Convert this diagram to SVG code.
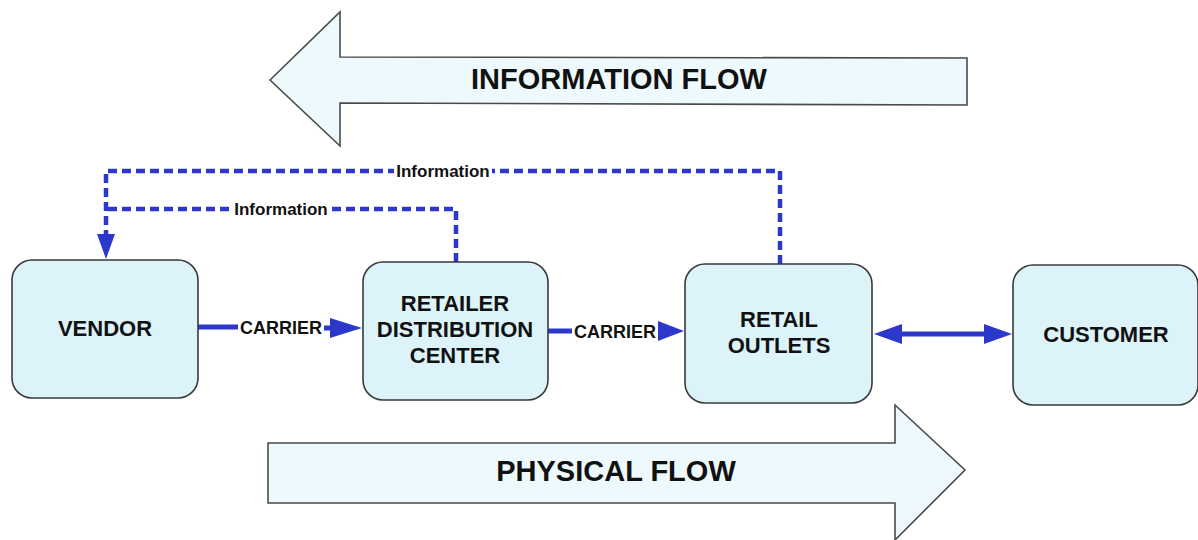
<svg xmlns="http://www.w3.org/2000/svg" width="1198" height="540" viewBox="0 0 1198 540">
<style>
.node{fill:#dcf4f9;stroke:#3a3a3a;stroke-width:1.6}
.big{fill:#edf9fc;stroke:#4a4a4a;stroke-width:1.6}
.t{font-family:"Liberation Sans",Arial,sans-serif;font-weight:bold;fill:#111;text-anchor:middle}
.nt{font-size:22px}
.ft{font-size:29px}
.lt{font-size:18px}
.it{font-size:17px}
.dash{fill:none;stroke:#2b38c9;stroke-width:4.5;stroke-dasharray:9 5}
.solid{fill:none;stroke:#2b38c9;stroke-width:5}
.head{fill:#2b38c9}
.bg{fill:#fff}
</style>
<rect width="1198" height="540" fill="#fff"/>
<g id="info-flow">
<polygon class="big" points="270,80 340,12 340,57 967,58 967,105 340,103 340,146"/>
<text class="t ft" x="619" y="89">INFORMATION FLOW</text>
</g>
<g id="physical-flow">
<polygon class="big" points="268,443 895,443 895,405 965,470 895,540 895,503 268,503"/>
<text class="t ft" x="616" y="481">PHYSICAL FLOW</text>
</g>
<g id="connectors">
<path class="dash" d="M780,264 V171 H106 V236"/>
<polygon class="head" points="97,234 115,234 106,259"/>
<path class="dash" d="M456,262 V209 H106"/>
<rect class="bg" x="394" y="160" width="98" height="22"/>
<text class="t it" x="443" y="177">Information</text>
<rect class="bg" x="232" y="198" width="98" height="22"/>
<text class="t it" x="281" y="215">Information</text>
<path class="solid" d="M198,327 H238"/>
<text class="t lt" x="281" y="334">CARRIER</text>
<path class="solid" d="M324,328 H338"/>
<polygon class="head" points="330,318 362,328 330,338"/>
<path class="solid" d="M548,331 H572"/>
<text class="t lt" x="615" y="338">CARRIER</text>
<polygon class="head" points="658,321 684,331 658,341"/>
<path class="solid" d="M895,334 H990"/>
<polygon class="head" points="874,334 902,324 902,344"/>
<polygon class="head" points="1012,334 984,324 984,344"/>
</g>
<g id="vendor">
<rect class="node" x="12" y="260" width="186" height="138" rx="20"/>
<text class="t nt" x="105" y="336">VENDOR</text>
</g>
<g id="rdc">
<rect class="node" x="363" y="262" width="185" height="138" rx="20"/>
<text class="t nt" x="455" y="311">RETAILER</text>
<text class="t nt" x="455" y="337">DISTRIBUTION</text>
<text class="t nt" x="455" y="363">CENTER</text>
</g>
<g id="retail-outlets">
<rect class="node" x="685" y="264" width="187" height="139" rx="20"/>
<text class="t nt" x="779" y="327">RETAIL</text>
<text class="t nt" x="779" y="353">OUTLETS</text>
</g>
<g id="customer">
<rect class="node" x="1013" y="265" width="185" height="140" rx="20"/>
<text class="t nt" x="1106" y="342">CUSTOMER</text>
</g>
</svg>
